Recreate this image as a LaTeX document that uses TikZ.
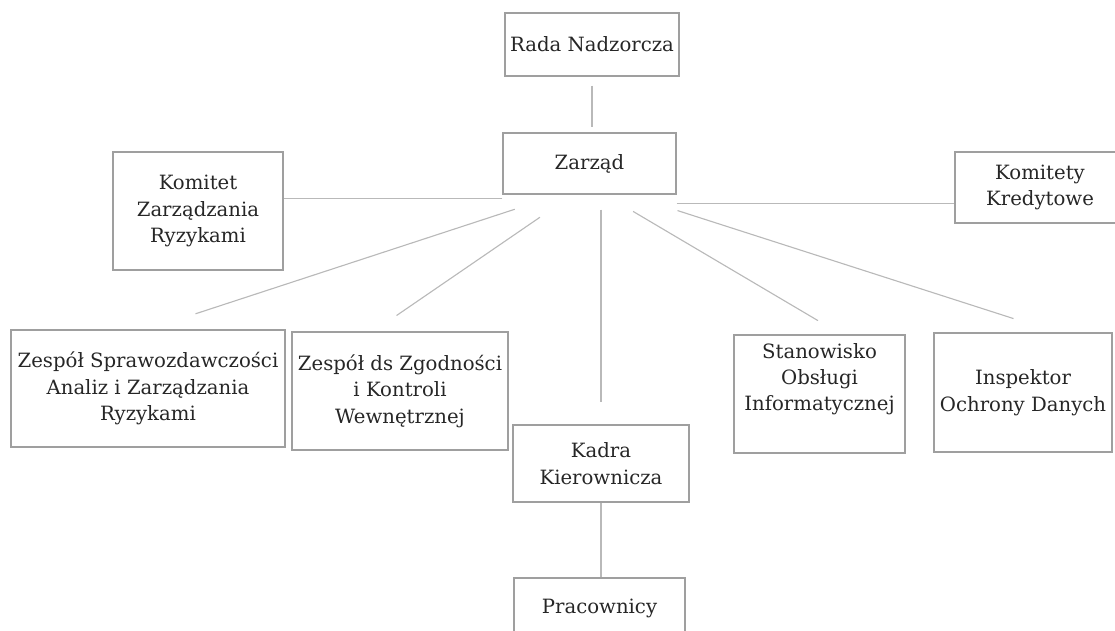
\documentclass[tikz,border=0pt]{standalone}
\usepackage{fontspec}
\setmainfont{DejaVu Serif}
\begin{document}
\begin{tikzpicture}[x=0.025cm,y=-0.025cm,
  box/.style={draw=gray!75, line width=0.9pt, text=black!85, align=center, inner sep=2pt, font=\fontsize{14}{18.8}\selectfont},
  link/.style={draw=gray!55, line width=0.8pt}]
\useasboundingbox (0,0) rectangle (1115,630);
\node[box, minimum width=4.35cm, minimum height=1.575cm] (rada) at (592,44.5) {Rada Nadzorcza};
\node[box, minimum width=4.325cm, minimum height=1.525cm] (zarzad) at (589.5,163.5) {Zarząd};
\node[box, minimum width=4.25cm, minimum height=2.95cm] (komitet) at (198,211) {Komitet\\Zarządzania\\Ryzykami};
\node[box, minimum width=4.25cm, minimum height=1.775cm] (kredyt) at (1040,187.5) {Komitety\\Kredytowe};
\node[box, minimum width=6.85cm, minimum height=2.925cm] (spraw) at (148,388.5) {Zespół Sprawozdawczości\\Analiz i Zarządzania\\Ryzykami};
\node[box, minimum width=5.4cm, minimum height=2.95cm] (zgod) at (400,391) {Zespół ds Zgodności\\i Kontroli\\Wewnętrznej};
\node[box, minimum width=4.4cm, minimum height=1.925cm] (kadra) at (601,463.5) {Kadra\\Kierownicza};
\node[box, minimum width=4.275cm, minimum height=1.5cm] (prac) at (599.5,608) {Pracownicy};
\node[box, minimum width=4.275cm, minimum height=2.95cm, text depth=0.85cm] (stan) at (819.5,394) {Stanowisko\\Obsługi\\Informatycznej};
\node[box, minimum width=4.45cm, minimum height=2.975cm] (insp) at (1023,392.5) {Inspektor\\Ochrony Danych};
\coordinate (zl) at ([yshift=-0.1cm]zarzad.south west);
\coordinate (zr) at ([yshift=-0.225cm]zarzad.south east);
\draw[link, shorten <=0.225cm, shorten >=0.125cm] (rada.south) -- (rada.south |- zarzad.north);
\draw[link] (zl) -- (zl -| komitet.east);
\draw[link] (zr) -- (zr -| kredyt.west);
\draw[link, shorten <=1.175cm, shorten >=1.25cm] (zarzad.226) -- (spraw.north);
\draw[link, shorten <=1cm, shorten >=0.7cm] (zarzad.242) -- (zgod.114);
\draw[link, shorten <=0.375cm, shorten >=0.55cm] (zarzad.south -| kadra.north) -- (kadra.north);
\draw[link, shorten <=0.825cm, shorten >=0.675cm] (zarzad.296) -- (stan.70);
\draw[link, shorten <=1.3cm, shorten >=1.125cm] (zarzad.321) -- (insp.61);
\draw[link] (kadra.south) -- (kadra.south |- prac.north);
\end{tikzpicture}
\end{document}
